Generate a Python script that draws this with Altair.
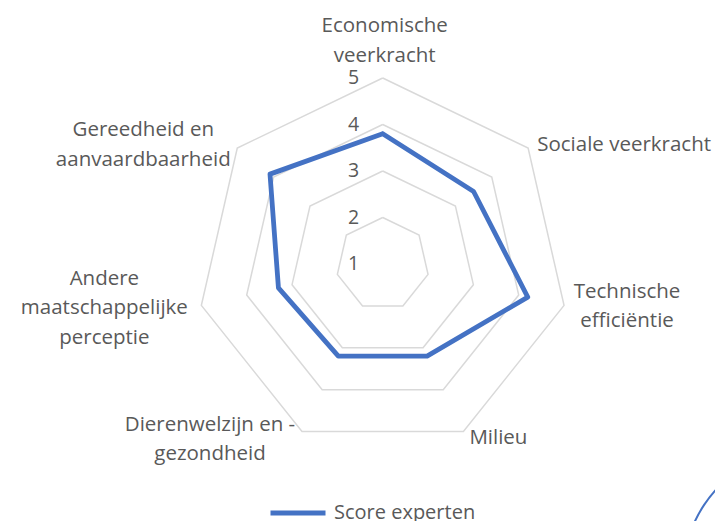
import altair as alt
import pandas as pd

# ---------------- data ----------------
categories = [
    "Economische veerkracht",
    "Sociale veerkracht",
    "Technische efficiëntie",
    "Milieu",
    "Dierenwelzijn en -gezondheid",
    "Andere maatschappelijke perceptie",
    "Gereedheid en aanvaardbaarheid",
]
label_lines = [
    ["Economische", "veerkracht"],
    ["Sociale veerkracht"],
    ["Technische", "efficiëntie"],
    ["Milieu"],
    ["Dierenwelzijn en -", "gezondheid"],
    ["Andere", "maatschappelijke", "perceptie"],
    ["Gereedheid en", "aanvaardbaarheid"],
]
scores = [3.8, 3.5, 4.2, 3.2, 3.2, 3.3, 4.1]
ring_levels = [2, 3, 4, 5]
tick_values = [1, 2, 3, 4, 5]
series_name = "Score experten"

# ---------------- layout ----------------
W, H = 715, 521
UNIT = 46.5          # pixels per score unit
CX, CY = 382.7, 264  # pixel position of the radar centre
AXIS_MIN, AXIS_MAX = 1, 5
# pixel offsets of each category label block centre from the outer ring vertex
label_offsets = [(2, -37), (96, -3), (63, 1), (35, 6), (-92, 8), (-97, 3), (-94, -3)]
FONT = "Open Sans"
LABEL_SIZE = 20.5
LINE_H = 29.5
TEXT_COLOR = "#595959"
GRID_COLOR = "#d9d9d9"
LINE_COLOR = "#4472C4"

n = len(categories)
xscale = alt.Scale(domain=[-CX / UNIT, (W - CX) / UNIT], nice=False, zero=False)
yscale = alt.Scale(domain=[-(H - CY) / UNIT, CY / UNIT], nice=False, zero=False)

ang = f"datum.i * 2 * PI / {n}"

# series polygon (closed)
series_df = pd.DataFrame({
    "i": list(range(n)) + [0],
    "order": list(range(n + 1)),
    "category": categories + [categories[0]],
    "score": scores + [scores[0]],
    "series": [series_name] * (n + 1),
})

series = alt.Chart(series_df).transform_calculate(
    px=f"(datum.score - {AXIS_MIN}) * sin({ang})",
    py=f"(datum.score - {AXIS_MIN}) * cos({ang})",
).mark_line(strokeWidth=4.8, strokeJoin="round", strokeCap="round").encode(
    x=alt.X("px:Q", scale=xscale, axis=None),
    y=alt.Y("py:Q", scale=yscale, axis=None),
    order="order:Q",
    color=alt.Color(
        "series:N",
        scale=alt.Scale(domain=[series_name], range=[LINE_COLOR]),
        legend=alt.Legend(
            title=None,
            orient="none",
            legendX=268,
            legendY=483,
            symbolType="stroke",
            symbolStrokeWidth=5,
            symbolSize=3025,
            labelFont=FONT,
            labelFontSize=20,
            labelColor=TEXT_COLOR,
            labelOffset=6,
            padding=0,
        ),
    ),
)

# grid rings
ring_rows = []
for lv in ring_levels:
    for k in range(n + 1):
        ring_rows.append({"level": lv, "i": k % n, "order": k})
ring_df = pd.DataFrame(ring_rows)

rings = alt.Chart(ring_df).transform_calculate(
    px=f"(datum.level - {AXIS_MIN}) * sin({ang})",
    py=f"(datum.level - {AXIS_MIN}) * cos({ang})",
).mark_line(color=GRID_COLOR, strokeWidth=1.5).encode(
    x=alt.X("px:Q", scale=xscale, axis=None),
    y=alt.Y("py:Q", scale=yscale, axis=None),
    detail="level:N",
    order="order:Q",
)

# tick labels along the vertical axis
tick_df = pd.DataFrame({"v": tick_values})
ticks = alt.Chart(tick_df).transform_calculate(
    px="0",
    py=f"datum.v - {AXIS_MIN}",
).mark_text(font=FONT, fontSize=19.5, color=TEXT_COLOR, align="center", baseline="middle", dx=-29).encode(
    x=alt.X("px:Q", scale=xscale, axis=None),
    y=alt.Y("py:Q", scale=yscale, axis=None),
    text="v:Q",
)

# category labels (Vega anchors the first line; shift so the block is centred)
lab_df = pd.DataFrame({
    "i": list(range(n)),
    "lines": label_lines,
    "nl": [len(l) for l in label_lines],
    "ox": [o[0] for o in label_offsets],
    "oy": [o[1] for o in label_offsets],
})
labels = alt.Chart(lab_df).transform_calculate(
    px=f"{AXIS_MAX - AXIS_MIN} * sin({ang}) + datum.ox / {UNIT}",
    py=f"{AXIS_MAX - AXIS_MIN} * cos({ang}) - (datum.oy - (datum.nl - 1) * {LINE_H} / 2) / {UNIT}",
).mark_text(font=FONT, fontSize=LABEL_SIZE, color=TEXT_COLOR, align="center", baseline="middle", lineHeight=LINE_H).encode(
    x=alt.X("px:Q", scale=xscale, axis=None),
    y=alt.Y("py:Q", scale=yscale, axis=None),
    text="lines",
)

# decorative arc in the lower-right corner (slide decoration)
deco = alt.Chart(pd.DataFrame({"d": [0]})).mark_arc(
    color=LINE_COLOR, radius=128, radius2=126, theta=4.71, theta2=6.2832
).encode(x=alt.value(810), y=alt.value(575))

chart = alt.layer(rings, ticks, labels, series, deco).properties(
    width=W, height=H, padding=0, autosize=alt.AutoSizeParams(type="none"), background="white"
).configure_view(strokeWidth=0)

chart.save("out.html", embed_options={"renderer": "svg", "actions": False})
